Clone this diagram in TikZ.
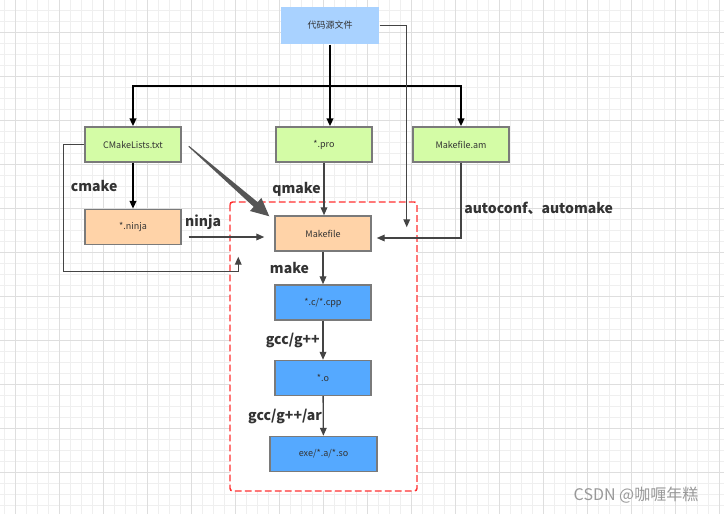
\documentclass[tikz,border=0pt]{standalone}
\usepackage{fontspec}
\setmainfont{Noto Sans CJK SC}
\usetikzlibrary{arrows.meta,calc}

\definecolor{gridminor}{HTML}{EFEFEF}
\definecolor{gridmajor}{HTML}{DEDEDE}
\definecolor{srcblue}{HTML}{A9D2FF}
\definecolor{lime}{HTML}{D4FCA6}
\definecolor{peach}{HTML}{FFD3A8}
\definecolor{objblue}{HTML}{55A9FF}
\definecolor{boxline}{HTML}{7A7A7A}
\definecolor{boxtext}{HTML}{333333}
\definecolor{linegray}{HTML}{444444}
\definecolor{wedgegray}{HTML}{555555}
\definecolor{dashred}{HTML}{FF3030}

\tikzset{
  box/.style={draw=boxline,line width=1.1pt,minimum width=72pt,minimum height=26.25pt,
    inner sep=0pt,font=\fontsize{6.75}{8}\selectfont,text=boxtext},
  srcbox/.style={box,draw=none,fill=srcblue,minimum width=73.5pt,minimum height=27.75pt},
  greenbox/.style={box,fill=lime},
  peachbox/.style={box,fill=peach},
  bluebox/.style={box,fill=objblue},
  thickline/.style={line width=1.5pt,black},
  thinline/.style={line width=1pt,linegray},
  arrowhd/.style={-{Triangle[length=6pt,width=5pt]}},
  lbl/.style={font=\bfseries\fontsize{10.5}{12}\selectfont,text=boxtext,inner sep=2pt}
}

\begin{document}
\begin{tikzpicture}[x=0.75pt,y=-0.75pt]
    \useasboundingbox (0,0) rectangle (724,514);
    \fill[white] (0,0) rectangle (724,514);

    % grid
    \foreach \gx in {-1,...,64} \draw[gridminor,line width=0.6pt] ({15+11.01*\gx},0) -- ++(0,514);
    \foreach \gy in {-2,...,43} \draw[gridminor,line width=0.6pt] (0,{32.3+11.01*\gy}) -- ++(724,0);
    \foreach \gx in {0,...,16} \draw[gridmajor,line width=0.6pt] ({15+44.04*\gx},0) -- ++(0,514);
    \foreach \gy in {0,...,10} \draw[gridmajor,line width=0.6pt] (0,{32.3+44.04*\gy}) -- ++(724,0);

    % make area
    \draw[dashred,line width=1.1pt,dash pattern=on 5pt off 2.5pt,fill=white,rounded corners=2pt]
        (230,202) rectangle (417,491);

    \node[srcbox] (src) at (330,25.5) {代码源文件};
    \node[greenbox] (cml) at (133,144.5) {CMakeLists.txt};
    \node[greenbox] (pro) at (324,144.5) {*.pro};
    \node[greenbox] (mam) at (461,144.5) {Makefile.am};
    \node[peachbox] (ninja) at (133,227) {*.ninja};
    \node[peachbox] (mk) at (323,233.5) {Makefile};
    \node[bluebox] (cpp) at (323,302.5) {*.c/*.cpp};
    \node[bluebox] (obj) at (323,378) {*.o};
    \node[bluebox,minimum width=80.25pt] (bin) at (323.5,454) {exe/*.a/*.so};

    \coordinate (bus) at (330,86);
    \coordinate (rvend) at ($(mk.north east)+(35,12)$);
    \coordinate (loopend) at ($(mk.south west)+(-36,5)$);
    \coordinate (ws) at ($(cml.north east)+(7,20)$);
    \coordinate (we) at ($(mk.north west)+(-5,1)$);
    \coordinate (hb) at ($(we)!13.5pt!(ws)$);

    \draw[thickline,arrowhd] (src.south) -- (src.south |- pro.north);
    \draw[thickline,arrowhd] (bus) -| (cml.north);
    \draw[thickline,arrowhd] (bus) -| (mam.north);
    \draw[thinline,arrowhd] (src.east) -| (rvend);

    \path[thickline,arrowhd] (cml) edge node[lbl,left,xshift=-9pt] {cmake} (ninja);
    \path[thinline,arrowhd] (pro.south) edge node[lbl,left] {qmake} (pro.south |- mk.north);
    \draw[thinline,arrowhd] ($(ninja.east)+(7,10)$) -- node[lbl,above,xshift=-17.5pt,yshift=3pt] {ninja} ($(mk.west)+(-10,3.5)$);
    \draw[thinline,arrowhd] (mam.south) |- node[lbl,right,pos=0.3,anchor=west] {autoconf、automake} ($(mk.east)+(5,4.5)$);
    \draw[thinline,arrowhd] (cml.west) -- ++(-21,0) |- ($(loopend)+(0,15)$) -- (loopend);

    % big arrow
    \fill[wedgegray] ($(ws)!0.4pt!90:(we)$) -- ($(hb)!2.3pt!-90:(ws)$) -- ($(hb)!6.5pt!-90:(ws)$) -- (we)
        -- ($(hb)!6.5pt!90:(ws)$) -- ($(hb)!2.3pt!90:(ws)$) -- ($(ws)!0.4pt!-90:(we)$) -- cycle;

    \path[thinline,arrowhd] (mk) edge node[lbl,left,xshift=-8pt] {make} (cpp);
    \path[thinline,arrowhd] (cpp) edge node[lbl,left] {gcc/g++} (obj);
    \path[thinline,arrowhd] (obj) edge node[lbl,left,inner sep=0.5pt] {gcc/g++/ar} (bin);

    \node[anchor=west,text=gray!80,font=\fontsize{12}{14}\selectfont] (mark) at (569,495) {CSDN @咖喱年糕};
\end{tikzpicture}
\end{document}
